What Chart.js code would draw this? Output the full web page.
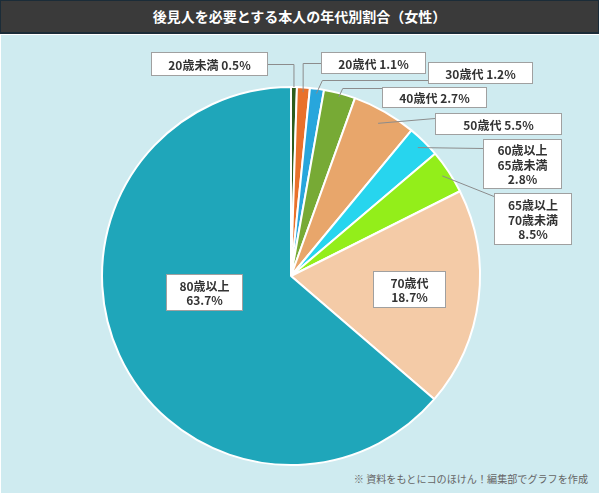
<!DOCTYPE html>
<html lang="ja">
<head>
<meta charset="utf-8">
<script src="https://cdn.jsdelivr.net/npm/chart.js@4.4.0/dist/chart.umd.min.js"></script>
<style>
  html, body { margin: 0; padding: 0; background: #fff; }
  #wrap { position: relative; width: 599px; height: 493px; overflow: hidden; }
  #title {
    position: absolute; left: 0; top: 0; width: 597px; height: 31px;
    background: #3a3a3a; border: 1px solid #1b2c38; border-bottom-width: 2px;
    color: #fff; font: bold 14px "Noto Sans CJK JP"; text-align: center; line-height: 31px;
  }
  #panel { position: absolute; left: 1px; top: 35px; width: 598px; height: 458px; background: #cfebf0; }
  #note {
    position: absolute; right: 11px; top: 471px;
    font: 10.1px "Noto Sans CJK JP"; color: #666;
  }
  canvas { position: absolute; left: 0; top: 0; }
</style>
</head>
<body>
<div id="wrap">
  <div id="title">後見人を必要とする本人の年代別割合（女性）</div>
  <div id="panel"></div>
  <div id="note">※ 資料をもとにコのほけん！編集部でグラフを作成</div>
  <canvas id="chart" width="599" height="493"></canvas>
</div>
<script>
// categories, clockwise from the top
const ageGroups = ["20歳未満", "20歳代", "30歳代", "40歳代", "50歳代", "60歳以上65歳未満", "65歳以上70歳未満", "70歳代", "80歳以上"];
// slice sizes as drawn in the picture
const shares = [0.5, 1.1, 1.2, 2.7, 5.5, 2.8, 3.8, 18.7, 63.7];
// percentages as printed on the labels
const shownPct = [0.5, 1.1, 1.2, 2.7, 5.5, 2.8, 8.5, 18.7, 63.7];
const sliceColors = ["#2e5b1b", "#e9712b", "#28a6dc", "#77aa35", "#e8a66b", "#27d5ee", "#93ee1a", "#f4cba7", "#1fa6ba"];

// label boxes (layout only): position, size, leader line
const boxes = [
  { x: 151, y: 52, w: 117, h: 24, ly: 64, elbow: 0, anchor: 1.0, mode: "inline" },
  { x: 321, y: 52, w: 105, h: 22, ly: 63, elbow: 0, anchor: 0.975, mode: "inline" },
  { x: 428, y: 62, w: 105, h: 22, ly: 80, elbow: 6, anchor: 0.975, mode: "inline" },
  { x: 382, y: 87, w: 105, h: 21, ly: 88, elbow: 4, anchor: 0.98, mode: "inline" },
  { x: 435, y: 113, w: 127, h: 22, ly: 118, anchor: 0.93, mode: "inline" },
  { x: 483, y: 139, w: 79, h: 50, ly: 148, anchor: 0.955, mode: "split" },
  { x: 494, y: 193, w: 78, h: 52, ly: 196, anchor: 0.96, mode: "split" },
  { x: 373, y: 271, w: 73, h: 37, mode: "stack" },
  { x: 166, y: 274, w: 77, h: 37, mode: "stack" }
];

function labelLines(i) {
  const name = ageGroups[i];
  const pct = shownPct[i].toFixed(1) + "%";
  const mode = boxes[i].mode;
  if (mode === "inline") return [name + " " + pct];
  if (mode === "split") return name.split(/(?<=以上)/).concat([pct]);
  return [name, pct];
}

const callouts = {
  id: "callouts",
  afterDatasetsDraw(chart) {
    const ctx = chart.ctx;
    const arcs = chart.getDatasetMeta(0).data;
    ctx.save();
    arcs.forEach((arc, i) => {
      const b = boxes[i];
      if (b.anchor) {
        const mid = (arc.startAngle + arc.endAngle) / 2;
        const r = arc.outerRadius * b.anchor;
        const ax = arc.x + Math.cos(mid) * r;
        const ay = arc.y + Math.sin(mid) * r;
        const ex = b.x + b.w < ax ? b.x + b.w : b.x;
        ctx.strokeStyle = "#8c8c8c";
        ctx.lineWidth = 1;
        ctx.beginPath();
        ctx.moveTo(ax, ay);
        if (b.elbow != null) ctx.lineTo(ax + b.elbow, b.ly + 0.5);
        ctx.lineTo(ex, b.ly + 0.5);
        ctx.stroke();
      }
      ctx.fillStyle = "#fff";
      ctx.fillRect(b.x, b.y, b.w, b.h);
      ctx.strokeStyle = "#a0a0a0";
      ctx.strokeRect(b.x + 0.5, b.y + 0.5, b.w - 1, b.h - 1);
      const lines = labelLines(i);
      const lh = 14.5;
      ctx.fillStyle = "#333";
      ctx.font = 'bold 12px "Noto Sans CJK JP"';
      ctx.textAlign = "center";
      ctx.textBaseline = "middle";
      const cy = b.y + b.h / 2 - (lines.length - 1) * lh / 2;
      lines.forEach((t, k) => ctx.fillText(t, b.x + b.w / 2, cy + k * lh + 1));
    });
    ctx.restore();
  }
};

new Chart(document.getElementById("chart"), {
  type: "pie",
  data: {
    labels: ageGroups,
    datasets: [{
      data: shares,
      backgroundColor: sliceColors,
      borderColor: "#ffffff",
      borderWidth: 2
    }]
  },
  options: {
    responsive: false,
    animation: false,
    radius: 189,
    layout: { padding: { left: 102, right: 119, top: 87, bottom: 28 } },
    plugins: { legend: { display: false }, tooltip: { enabled: false } }
  },
  plugins: [callouts]
});
</script>
</body>
</html>
